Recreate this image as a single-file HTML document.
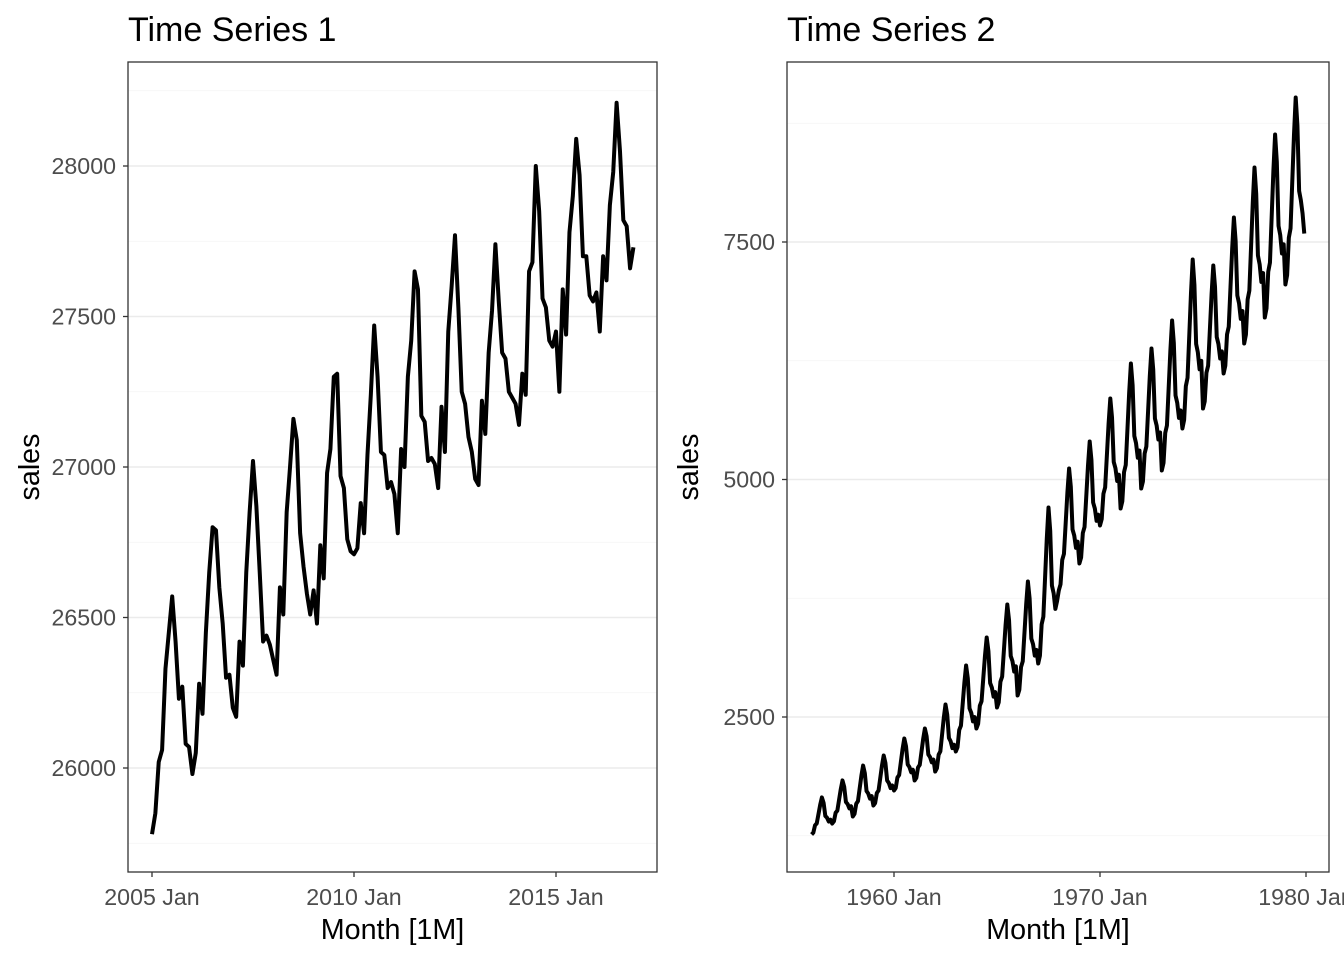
<!DOCTYPE html>
<html><head><meta charset="utf-8"><style>
html,body{margin:0;padding:0;background:#fff;}
svg{display:block;font-family:"Liberation Sans",Arial,sans-serif;}
</style></head><body>
<svg id="chart" width="1344" height="960" viewBox="0 0 1344 960">
  <g id="p1"></g>
  <g id="p2"></g>
</svg>
<script>
// ---- Time Series 1 data (monthly, 2005 Jan .. 2016 Dec) ----
const s1Start = 2005;
const s1Values = [
25780,25850,26020,26060,26330,26450,26570,26420,26230,26270,26080,26070,
25980,26050,26280,26180,26450,26650,26800,26790,26600,26480,26300,26310,
26200,26170,26420,26340,26650,26850,27020,26870,26650,26420,26440,26410,
26360,26310,26600,26510,26850,27000,27160,27090,26780,26670,26580,26510,
26590,26480,26740,26630,26980,27060,27300,27310,26970,26930,26760,26720,
26710,26730,26880,26780,27040,27240,27470,27300,27050,27040,26930,26950,
26910,26780,27060,27000,27300,27420,27650,27590,27170,27150,27020,27030,
27010,26930,27200,27050,27450,27600,27770,27530,27250,27210,27100,27050,
26960,26940,27220,27110,27380,27520,27740,27550,27380,27360,27250,27230,
27210,27140,27310,27240,27650,27680,28000,27850,27560,27530,27420,27400,
27450,27250,27590,27440,27780,27900,28090,27970,27700,27700,27570,27550,
27580,27450,27700,27620,27870,27980,28210,28050,27820,27800,27660,27730];
const s1YTicks = [26000,26500,27000,27500,28000];
const s1XTickYears = [2005,2010,2015];

// ---- Time Series 2 data (monthly, 1956 Jan .. 1979 Dec) ----
const s2Start = 1956;
const s2Values = [
1263,1283,1360,1380,1478,1575,1653,1595,1458,1439,1400,1419,
1379,1402,1492,1515,1628,1741,1832,1764,1605,1583,1538,1560,
1453,1480,1587,1614,1748,1882,1989,1909,1721,1694,1641,1667,
1568,1594,1700,1726,1858,1990,2095,2016,1832,1805,1752,1779,
1726,1753,1863,1890,2027,2164,2274,2192,2000,1973,1918,1945,
1832,1859,1969,1996,2133,2270,2379,2297,2105,2078,2023,2051,
1926,1961,2103,2138,2314,2491,2632,2526,2279,2244,2173,2208,
2137,2182,2363,2409,2635,2861,3042,2906,2590,2544,2454,2499,
2379,2427,2619,2666,2906,3145,3337,3193,2858,2810,2714,2762,
2600,2654,2871,2925,3196,3467,3684,3521,3142,3088,2979,3034,
2726,2786,3026,3086,3386,3686,3926,3746,3326,3266,3146,3206,
3063,3145,3474,3556,3966,4377,4705,4459,3884,3802,3638,3720,
3832,3896,4153,4217,4538,4859,5116,4923,4474,4410,4281,4346,
4116,4180,4437,4501,4822,5143,5400,5207,4758,4694,4565,4630,
4516,4583,4850,4917,5251,5586,5853,5652,5185,5118,4984,5051,
4695,4771,5077,5153,5534,5916,6221,5992,5458,5382,5229,5305,
4905,4979,5274,5347,5716,6084,6379,6158,5642,5568,5421,5495,
5095,5174,5490,5569,5963,6358,6674,6437,5885,5806,5648,5727,
5537,5626,5982,6071,6515,6960,7316,7049,6427,6338,6160,6249,
5747,5822,6124,6199,6575,6952,7253,7027,6500,6425,6274,6349,
6116,6198,6527,6609,7019,7430,7758,7512,6937,6855,6691,6773,
6432,6525,6895,6988,7451,7914,8284,8006,7358,7265,7080,7173,
6705,6801,7187,7283,7765,8247,8632,8343,7669,7572,7379,7476,
7053,7151,7545,7643,8135,8627,9021,8726,8037,7939,7800,7589];
const s2YTicks = [2500,5000,7500];
const s2XTickYears = [1960,1970,1980];

const NS = "http://www.w3.org/2000/svg";
function mk(tag, attrs, parent){
  const e = document.createElementNS(NS, tag);
  for (const k in attrs) e.setAttribute(k, attrs[k]);
  parent.appendChild(e);
  return e;
}

function drawPanel(g, cfg){
  const {left,right,top,bottom,title,values,start,yTicks,xYears,yA,yB,xA,xB} = cfg;
  const ys = v => yA.px + (v - yA.v) * (yB.px - yA.px) / (yB.v - yA.v);
  const xs = m => xA.px + (m - xA.m) * (xB.px - xA.px) / (xB.m - xA.m);
  const inv = px => yA.v + (px - yA.px) * (yB.v - yA.v) / (yB.px - yA.px);

  const clipId = "clip" + left;
  const defs = mk("defs", {}, g);
  const cp = mk("clipPath", {id: clipId}, defs);
  mk("rect", {x:left, y:top, width:right-left, height:bottom-top}, cp);

  const bg = mk("rect", {x:left, y:top, width:right-left, height:bottom-top, fill:"#fff"}, g);
  
  

  const step = yTicks[1] - yTicks[0];
  const vMin = inv(bottom), vMax = inv(top);
  const gridG = mk("g", {}, g);
  
  
  for (let v = Math.ceil((vMin)/ (step/2)) * (step/2); v <= vMax; v += step/2) {
    const major = Math.abs(v / step - Math.round(v / step)) < 1e-6;
    mk("line", {x1:left, x2:right, y1:ys(v), y2:ys(v), stroke: major ? "#ebebeb" : "#f3f3f3", "stroke-width": major ? 1.4 : 0.8}, gridG);
  }

  const pts = values.map((v,i) => xs(i).toFixed(2) + "," + ys(v).toFixed(2)).join(" ");
  const line = mk("polyline", {points: pts, fill:"none", stroke:"#000", "stroke-width":4, "stroke-linejoin":"round", "clip-path":"url(#"+clipId+")"}, g);
  
  

  const border = mk("rect", {x:left, y:top, width:right-left, height:bottom-top, fill:"none", stroke:"#333", "stroke-width":1.3}, g);
  
  

  yTicks.forEach(v => {
    const y = ys(v);
    mk("line", {x1:left-5, x2:left, y1:y, y2:y, stroke:"#333", "stroke-width":1.3}, g);
    const t = mk("text", {x:left-12, y:y+8, "text-anchor":"end", "font-size":23.2, fill:"#4d4d4d"}, g);
    t.textContent = v;
    
    
  });
  xYears.forEach(yr => {
    const x = xs((yr - start) * 12);
    mk("line", {x1:x, x2:x, y1:bottom, y2:bottom+5, stroke:"#333", "stroke-width":1.3}, g);
    const t = mk("text", {x:x, y:905, "text-anchor":"middle", "font-size":23.2, fill:"#4d4d4d"}, g);
    t.textContent = yr + " Jan";
    
    
  });
  const tt = mk("text", {x:left, y:41, "font-size":34, fill:"#000"}, g);
  tt.textContent = title;
  
  

  const xt = mk("text", {x:(left+right)/2, y:939, "text-anchor":"middle", "font-size":28.7, fill:"#000"}, g);
  xt.textContent = "Month [1M]";
  
  

  const yt = mk("text", {x:0, y:0, "text-anchor":"middle", "font-size":28.7, fill:"#000", transform:"translate("+(left-89)+","+((top+bottom)/2)+") rotate(-90)"}, g);
  yt.textContent = "sales";
  
  
}

drawPanel(document.getElementById("p1"), {
  left:128, right:657, top:62, bottom:872, title:"Time Series 1",
  values:s1Values, start:s1Start, yTicks:s1YTicks, xYears:s1XTickYears,
  yA:{v:26000, px:768}, yB:{v:28000, px:166},
  xA:{m:0, px:152}, xB:{m:60, px:354}
});
drawPanel(document.getElementById("p2"), {
  left:787, right:1329, top:62, bottom:872, title:"Time Series 2",
  values:s2Values, start:s2Start, yTicks:s2YTicks, xYears:s2XTickYears,
  yA:{v:2500, px:717}, yB:{v:7500, px:242},
  xA:{m:48, px:894}, xB:{m:168, px:1100}
});
</script>
</body></html>
